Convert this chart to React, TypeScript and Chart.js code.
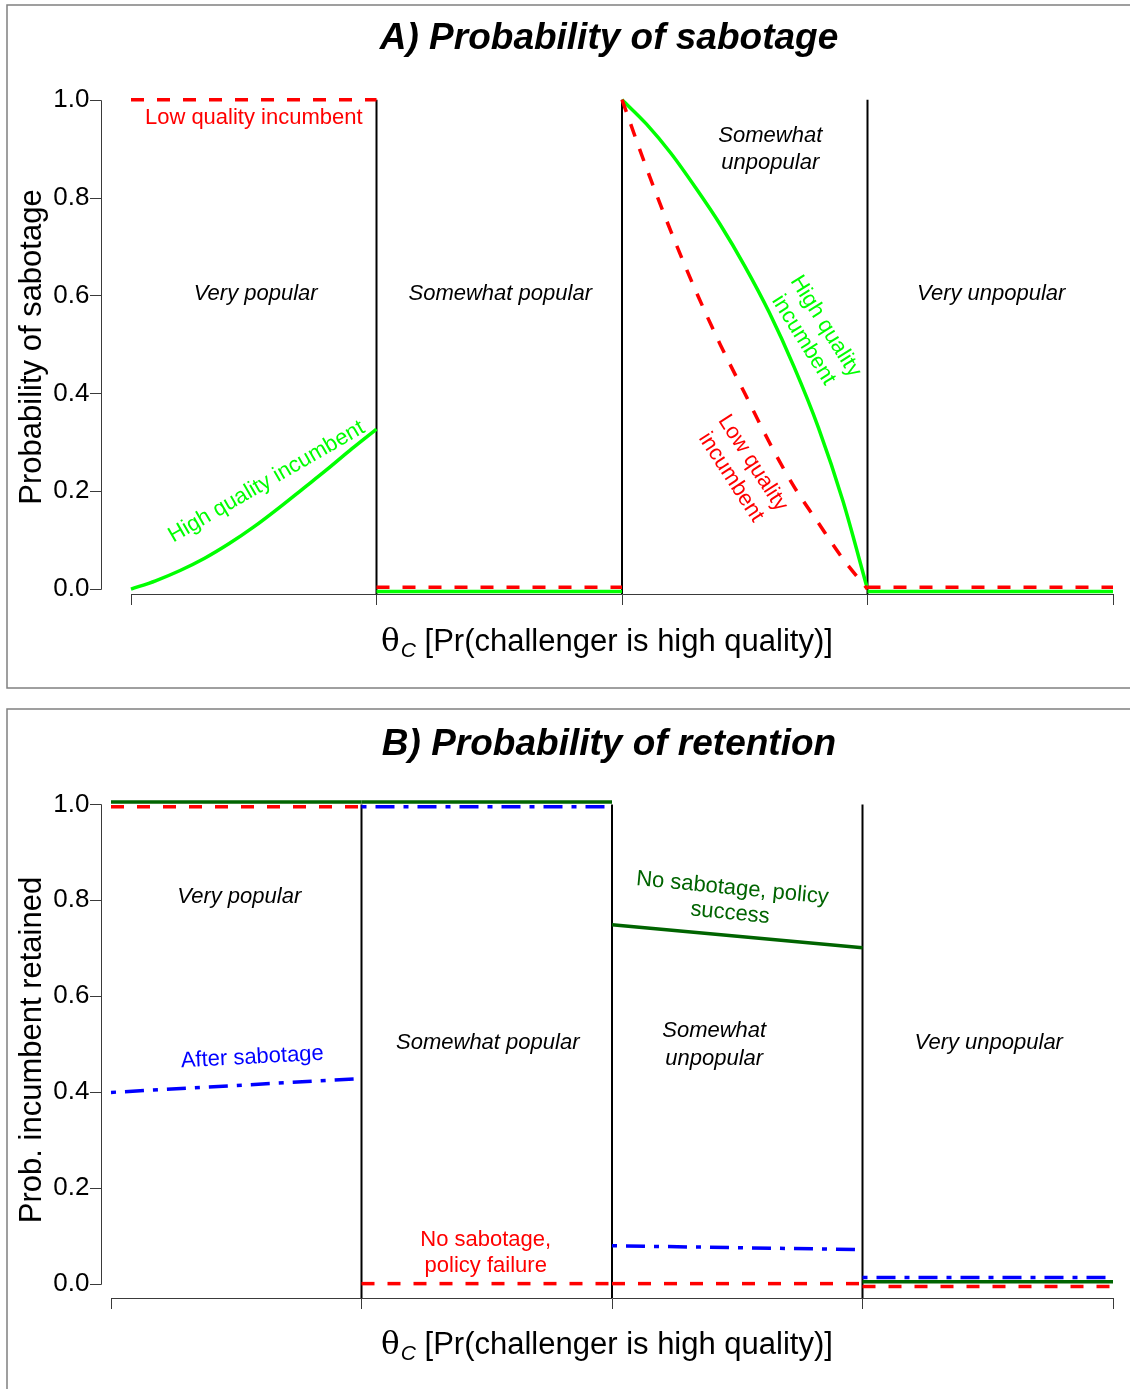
import React, { useEffect, useRef } from "react";
import { Chart, registerables } from "chart.js";

Chart.register(...registerables);

const SANS = '"Liberation Sans", Arial, Helvetica, sans-serif';
const SERIF = '"DejaVu Serif", "Liberation Serif", serif';

const RED = "#ff0000";
const LIME = "#00ff00";
const DKGREEN = "#006400";
const BLUE = "#0000ff";
const AXIS = "#3a3a3a";

// ---------- shared axis data ----------
const xTicks = [0, 0.25, 0.5, 0.75, 1];
const yTicks = [0, 0.2, 0.4, 0.6, 0.8, 1.0];
const regionX = [
  [0, 0.25],
  [0.25, 0.5],
  [0.5, 0.75],
  [0.75, 1],
];
const dividerX = [0.25, 0.5, 0.75];
const dividerTop = [1.0, 1.0, 1.0];

// ---------- Panel A: probability of sabotage ----------
const aXVeryPopular = [0, 0.025, 0.05, 0.075, 0.1, 0.125, 0.15, 0.175, 0.2, 0.225, 0.25];
const aHighVeryPopular = [0, 0.017, 0.038, 0.063, 0.093, 0.127, 0.165, 0.205, 0.245, 0.287, 0.327];
const aXSomewhatUnpopular = [0.5, 0.525, 0.55, 0.575, 0.6, 0.625, 0.65, 0.675, 0.7, 0.725, 0.75];
const aHighSomewhatUnpopular = [1.0, 0.95, 0.89, 0.82, 0.745, 0.66, 0.565, 0.455, 0.33, 0.18, 0.0];
const aLowSomewhatUnpopular = [1.0, 0.86, 0.73, 0.61, 0.5, 0.4, 0.3, 0.21, 0.135, 0.062, 0.0];
const aLowVeryPopular = [1.0, 1.0];
const aLowSomewhatPopular = [0.004, 0.004];
const aLowVeryUnpopular = [0.004, 0.004];
const aHighSomewhatPopular = [-0.005, -0.005];
const aHighVeryUnpopular = [-0.005, -0.005];

// ---------- Panel B: probability of retention (per region: [start, end]) ----------
const bSuccess = [
  [1.005, 1.005],
  [1.005, 1.005],
  [0.749, 0.701],
  [0.004, 0.004],
];
const bFailure = [
  [0.995, 0.995],
  [0, 0],
  [0, 0],
  [-0.006, -0.006],
];
const bAfterSabotage = [
  [0.399, 0.428],
  [0.995, 0.995],
  [0.079, 0.071],
  [0.013, 0.013],
];

type Pt = { x: number; y: number };
const seg = (xs: number[], ys: number[]): Pt[] => xs.map((x, i) => ({ x, y: ys[i] }));

const RED_DASH = [13, 13];
const BLUE_DASHDOT = [5, 9, 19, 9];

function line(data: Pt[], color: string, width: number, dash: number[] = [], smooth = false) {
  return {
    data,
    borderColor: color,
    backgroundColor: color,
    borderWidth: width,
    borderDash: dash,
    borderCapStyle: "butt",
    pointRadius: 0,
    pointHoverRadius: 0,
    fill: false,
    tension: 0,
    cubicInterpolationMode: smooth ? "monotone" : "default",
    clip: false,
  };
}

type Ann = {
  lines: string[];
  x: number;
  y: number;
  rot?: number;
  color?: string;
  italic?: boolean;
  gap?: number;
};

type PanelCfg = {
  title: string;
  titleX: number;
  titleY: number;
  yTitle: string;
  yTitleCY: number;
  xTitleCX: number;
  xTitleY: number;
  borderTop: number;
  borderBottom: number;
  anns: Ann[];
};

function panelPlugin(cfg: PanelCfg) {
  return {
    id: "panelDecor",
    afterDraw(chart: any) {
      const ctx: CanvasRenderingContext2D = chart.ctx;
      const xs = chart.scales.x;
      const ys = chart.scales.y;
      ctx.save();

      // panel border
      ctx.strokeStyle = "#808080";
      ctx.lineWidth = 1.5;
      ctx.strokeRect(7, cfg.borderTop, 1400, cfg.borderBottom - cfg.borderTop);

      // title
      ctx.fillStyle = "#000";
      ctx.font = `italic bold 37px ${SANS}`;
      ctx.textAlign = "center";
      ctx.textBaseline = "alphabetic";
      ctx.fillText(cfg.title, cfg.titleX, cfg.titleY);

      // R-style y axis line and ticks
      const yb = Math.round(ys.getPixelForValue(yTicks[0])) + 0.5;
      const yt = Math.round(ys.getPixelForValue(yTicks[yTicks.length - 1])) + 0.5;
      ctx.strokeStyle = AXIS;
      ctx.lineWidth = 1;
      ctx.beginPath();
      ctx.moveTo(101.5, yb);
      ctx.lineTo(101.5, yt);
      for (const v of yTicks) {
        const p = Math.round(ys.getPixelForValue(v)) + 0.5;
        ctx.moveTo(90, p);
        ctx.lineTo(101.5, p);
      }
      ctx.stroke();

      // y title
      ctx.save();
      ctx.translate(41, cfg.yTitleCY);
      ctx.rotate(-Math.PI / 2);
      ctx.font = `31px ${SANS}`;
      ctx.textAlign = "center";
      ctx.textBaseline = "alphabetic";
      ctx.fillText(cfg.yTitle, 0, 0);
      ctx.restore();

      // x title with subscript
      const rest = " [Pr(challenger is high quality)]";
      ctx.textAlign = "left";
      ctx.textBaseline = "alphabetic";
      ctx.font = `31px ${SERIF}`;
      const wT = ctx.measureText("θ").width;
      ctx.font = `italic 21px ${SANS}`;
      const wC = ctx.measureText("C").width;
      ctx.font = `31px ${SANS}`;
      const wR = ctx.measureText(rest).width;
      let x = cfg.xTitleCX - (wT + wC + wR + 1) / 2;
      ctx.font = `31px ${SERIF}`;
      ctx.fillText("θ", x, cfg.xTitleY);
      x += wT + 1;
      ctx.font = `italic 21px ${SANS}`;
      ctx.fillText("C", x, cfg.xTitleY + 6);
      x += wC;
      ctx.font = `31px ${SANS}`;
      ctx.fillText(rest, x, cfg.xTitleY);

      // annotations
      for (const a of cfg.anns) {
        const px = xs.getPixelForValue(a.x);
        const py = ys.getPixelForValue(a.y);
        ctx.save();
        ctx.translate(px, py);
        ctx.rotate(((a.rot || 0) * Math.PI) / 180);
        ctx.font = `${a.italic ? "italic " : ""}22px ${SANS}`;
        ctx.fillStyle = a.color || "#000";
        ctx.textAlign = "center";
        ctx.textBaseline = "middle";
        const gap = a.gap || 26;
        const n = a.lines.length;
        a.lines.forEach((t, i) => {
          ctx.fillText(t, 0, (i - (n - 1) / 2) * gap);
        });
        ctx.restore();
      }
      ctx.restore();
    },
  };
}

function makeOptions(yMin: number, yMax: number, yWidth: number, xHeight: number, padTop: number, labelPad: number) {
  return {
    responsive: false,
    animation: false,
    events: [],
    devicePixelRatio: 1,
    layout: { padding: { left: 0, right: 17, top: padTop, bottom: 0 } },
    plugins: { legend: { display: false }, tooltip: { enabled: false }, title: { display: false } },
    scales: {
      x: {
        type: "linear",
        min: 0,
        max: 1,
        afterBuildTicks: (s: any) => {
          s.ticks = xTicks.map((v) => ({ value: v }));
        },
        afterFit: (s: any) => {
          s.height = xHeight;
        },
        grid: { display: true, drawOnChartArea: false, drawTicks: true, tickLength: 11, color: AXIS, lineWidth: 1 },
        border: { display: true, color: AXIS, width: 1 },
        ticks: { display: false, autoSkip: false },
      },
      y: {
        type: "linear",
        min: yMin,
        max: yMax,
        afterBuildTicks: (s: any) => {
          s.ticks = yTicks.map((v) => ({ value: v }));
        },
        afterFit: (s: any) => {
          s.width = yWidth;
        },
        grid: { display: false, drawTicks: false },
        border: { display: false },
        ticks: {
          padding: labelPad,
          color: "#000",
          autoSkip: false,
          font: { family: SANS, size: 26 },
          callback: (v: any) => Number(v).toFixed(1),
        },
      },
    },
  };
}

function buildA(canvas: HTMLCanvasElement) {
  const yMin = -0.01;
  const datasets: any[] = [
    line(seg(regionX[0], aLowVeryPopular), RED, 3.5, RED_DASH),
    line(seg(regionX[1], aLowSomewhatPopular), RED, 3.5, RED_DASH),
    line(seg(aXSomewhatUnpopular, aLowSomewhatUnpopular), RED, 3.5, RED_DASH, true),
    line(seg(regionX[3], aLowVeryUnpopular), RED, 3.5, RED_DASH),
    line(seg(aXVeryPopular, aHighVeryPopular), LIME, 3.5, [], true),
    line(seg(regionX[1], aHighSomewhatPopular), LIME, 3.5),
    line(seg(aXSomewhatUnpopular, aHighSomewhatUnpopular), LIME, 3.5, [], true),
    line(seg(regionX[3], aHighVeryUnpopular), LIME, 3.5),
    ...dividerX.map((d, i) => line(seg([d, d], [dividerTop[i], yMin]), "#000", 2)),
  ];
  const cfg: PanelCfg = {
    title: "A) Probability of sabotage",
    titleX: 609,
    titleY: 49,
    yTitle: "Probability of sabotage",
    yTitleCY: 347,
    xTitleCX: 607,
    xTitleY: 651,
    borderTop: 5,
    borderBottom: 688,
    anns: [
      { lines: ["Low quality incumbent"], x: 0.125, y: 0.963, color: RED },
      { lines: ["Very popular"], x: 0.127, y: 0.603, italic: true },
      { lines: ["Somewhat popular"], x: 0.376, y: 0.603, italic: true },
      { lines: ["Somewhat", "unpopular"], x: 0.651, y: 0.898, italic: true, gap: 27 },
      { lines: ["Very unpopular"], x: 0.876, y: 0.603, italic: true },
      { lines: ["High quality incumbent"], x: 0.138, y: 0.219, rot: -30, color: LIME },
      { lines: ["High quality", "incumbent"], x: 0.696, y: 0.523, rot: 58, color: LIME, gap: 26 },
      { lines: ["Low quality", "incumbent"], x: 0.622, y: 0.243, rot: 57, color: RED, gap: 26 },
    ],
  };
  return new Chart(canvas, {
    type: "line",
    data: { datasets },
    options: makeOptions(yMin, 1.03, 131, 106, 85, 41.5) as any,
    plugins: [panelPlugin(cfg)],
  });
}

function buildB(canvas: HTMLCanvasElement) {
  const yMin = -0.03;
  const datasets: any[] = [];
  for (let i = 0; i < 4; i++) {
    datasets.push(line(seg(regionX[i], bSuccess[i]), DKGREEN, 3.5));
  }
  for (let i = 0; i < 4; i++) {
    datasets.push(line(seg(regionX[i], bFailure[i]), RED, 3.5, RED_DASH));
  }
  for (let i = 0; i < 4; i++) {
    datasets.push(line(seg(regionX[i], bAfterSabotage[i]), BLUE, 3.5, BLUE_DASHDOT));
  }
  dividerX.forEach((d, i) => datasets.push(line(seg([d, d], [dividerTop[i], yMin]), "#000", 2)));
  const cfg: PanelCfg = {
    title: "B) Probability of retention",
    titleX: 609,
    titleY: 55,
    yTitle: "Prob. incumbent retained",
    yTitleCY: 350,
    xTitleCX: 607,
    xTitleY: 654,
    borderTop: 9,
    borderBottom: 1200,
    anns: [
      { lines: ["Very popular"], x: 0.128, y: 0.806, italic: true },
      { lines: ["Somewhat popular"], x: 0.376, y: 0.503, italic: true },
      { lines: ["Somewhat", "unpopular"], x: 0.602, y: 0.499, italic: true, gap: 28 },
      { lines: ["Very unpopular"], x: 0.876, y: 0.503, italic: true },
      { lines: ["After sabotage"], x: 0.141, y: 0.472, rot: -3, color: BLUE },
      { lines: ["No sabotage, policy", "success"], x: 0.619, y: 0.799, rot: 5.5, color: DKGREEN, gap: 25 },
      { lines: ["No sabotage,", "policy failure"], x: 0.374, y: 0.063, color: RED, gap: 26 },
    ],
  };
  return new Chart(canvas, {
    type: "line",
    data: { datasets },
    options: makeOptions(yMin, 1.03, 111, 91, 90, 21.5) as any,
    plugins: [panelPlugin(cfg)],
  });
}

export default function App() {
  const refA = useRef<HTMLCanvasElement | null>(null);
  const refB = useRef<HTMLCanvasElement | null>(null);

  useEffect(() => {
    const a = refA.current ? buildA(refA.current) : null;
    const b = refB.current ? buildB(refB.current) : null;
    return () => {
      a?.destroy();
      b?.destroy();
    };
  }, []);

  return (
    <div
      style={{
        position: "absolute",
        left: 0,
        top: 0,
        width: 1130,
        height: 1389,
        overflow: "hidden",
        background: "#fff",
      }}
    >
      <canvas
        ref={refA}
        width={1130}
        height={700}
        style={{ position: "absolute", left: 0, top: 0, width: 1130, height: 700 }}
      />
      <canvas
        ref={refB}
        width={1130}
        height={689}
        style={{ position: "absolute", left: 0, top: 700, width: 1130, height: 689 }}
      />
    </div>
  );
}
